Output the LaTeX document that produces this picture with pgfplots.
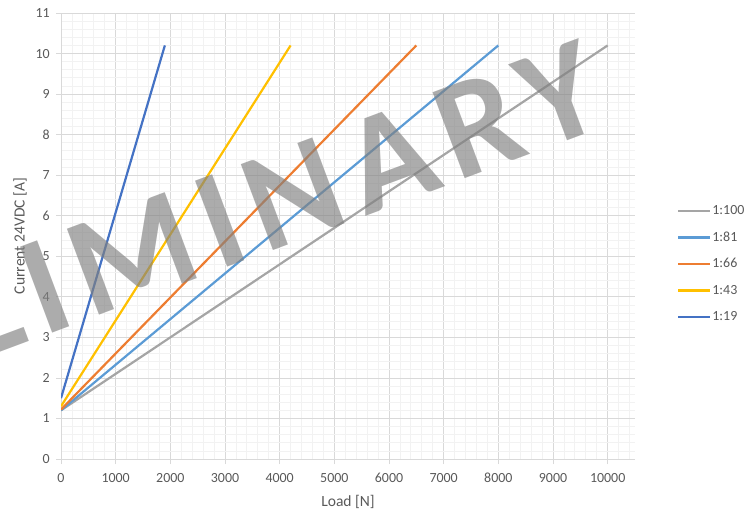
\documentclass[border=0pt]{standalone}
\usepackage{fontspec}
\setmainfont{Carlito}
\usepackage{pgfplots}
\pgfplotsset{compat=1.18}
\definecolor{cgray}{HTML}{A5A5A5}
\definecolor{cblue}{HTML}{5B9BD5}
\definecolor{corange}{HTML}{ED7D31}
\definecolor{cyellow}{HTML}{FFC000}
\definecolor{cdblue}{HTML}{4472C4}
\definecolor{txt}{HTML}{595959}
\definecolor{majg}{HTML}{D9D9D9}
\definecolor{ming}{HTML}{F2F2F2}
\begin{document}
\begin{tikzpicture}[x=1bp,y=1bp]
\begin{axis}[
  at={(61bp,54bp)}, anchor=south west,
  width=574bp, height=446bp, scale only axis,
  xmin=0, xmax=10500, ymin=0, ymax=11,
  xtick={0,1000,...,10000}, ytick={0,1,...,11},
  minor xtick={0,200,...,10400}, minor ytick={0,0.2,...,11},
  grid=both,
  major grid style={draw=majg, line width=0.75bp},
  minor grid style={draw=ming, line width=0.75bp},
  axis x line*=bottom, axis y line*=left,
  axis line style={draw=majg, line width=1bp, -},
  tick align=outside, major tick length=5bp, minor tick length=0pt,
  tick style={draw=majg, line width=0.75bp},
  scaled x ticks=false,
  /pgf/number format/assume math mode=true,
  /pgf/number format/1000 sep={},
  ticklabel style={font=\fontsize{14}{16}\selectfont, text=txt},
  xticklabel style={inner sep=0pt, anchor=north, yshift=-9bp},
  yticklabel style={inner sep=0pt, anchor=east, xshift=-6bp},
  xlabel={Load [N]}, ylabel={Current 24VDC [A]},
  label style={font=\fontsize{15.6}{18}\selectfont, text=txt},
  xlabel style={at={(axis description cs:0.5,-0.0964)}, anchor=center},
  ylabel style={at={(axis description cs:-0.0714,0.5)}, anchor=center},
  legend style={at={(1.0732,0.437)}, anchor=west, draw=none, fill=none, inner sep=0pt,
    font=\fontsize{14}{16}\selectfont, text=txt, row sep=11.5bp,
    nodes={inner sep=1bp, text height=10bp, text depth=3bp}},
  legend cell align=left,
  legend image code/.code={\draw[#1] (0bp,0bp) -- (32bp,0bp);},
]
\addplot[cgray, line width=2.2bp] coordinates {(0,1.2) (10000,10.2)};
\addlegendentry{1:100}
\addplot[cblue, line width=2.2bp] coordinates {(0,1.2) (8000,10.2)};
\addlegendentry{1:81}
\addplot[corange, line width=2.2bp] coordinates {(0,1.22) (6500,10.2)};
\addlegendentry{1:66}
\addplot[cyellow, line width=2.2bp] coordinates {(0,1.3) (4200,10.2)};
\addlegendentry{1:43}
\addplot[cdblue, line width=2.2bp] coordinates {(0,1.5) (1900,10.2)};
\addlegendentry{1:19}
\end{axis}
\node[rotate=20.5, text=black!50, text opacity=0.65, inner sep=0pt,
  font=\fontsize{142}{142}\selectfont\bfseries\addfontfeatures{LetterSpace=9}]
  at (154bp,267bp) {PRELIMINARY};
\pgfresetboundingbox
\useasboundingbox (0,0) rectangle (755bp,513bp);
\end{tikzpicture}
\end{document}
